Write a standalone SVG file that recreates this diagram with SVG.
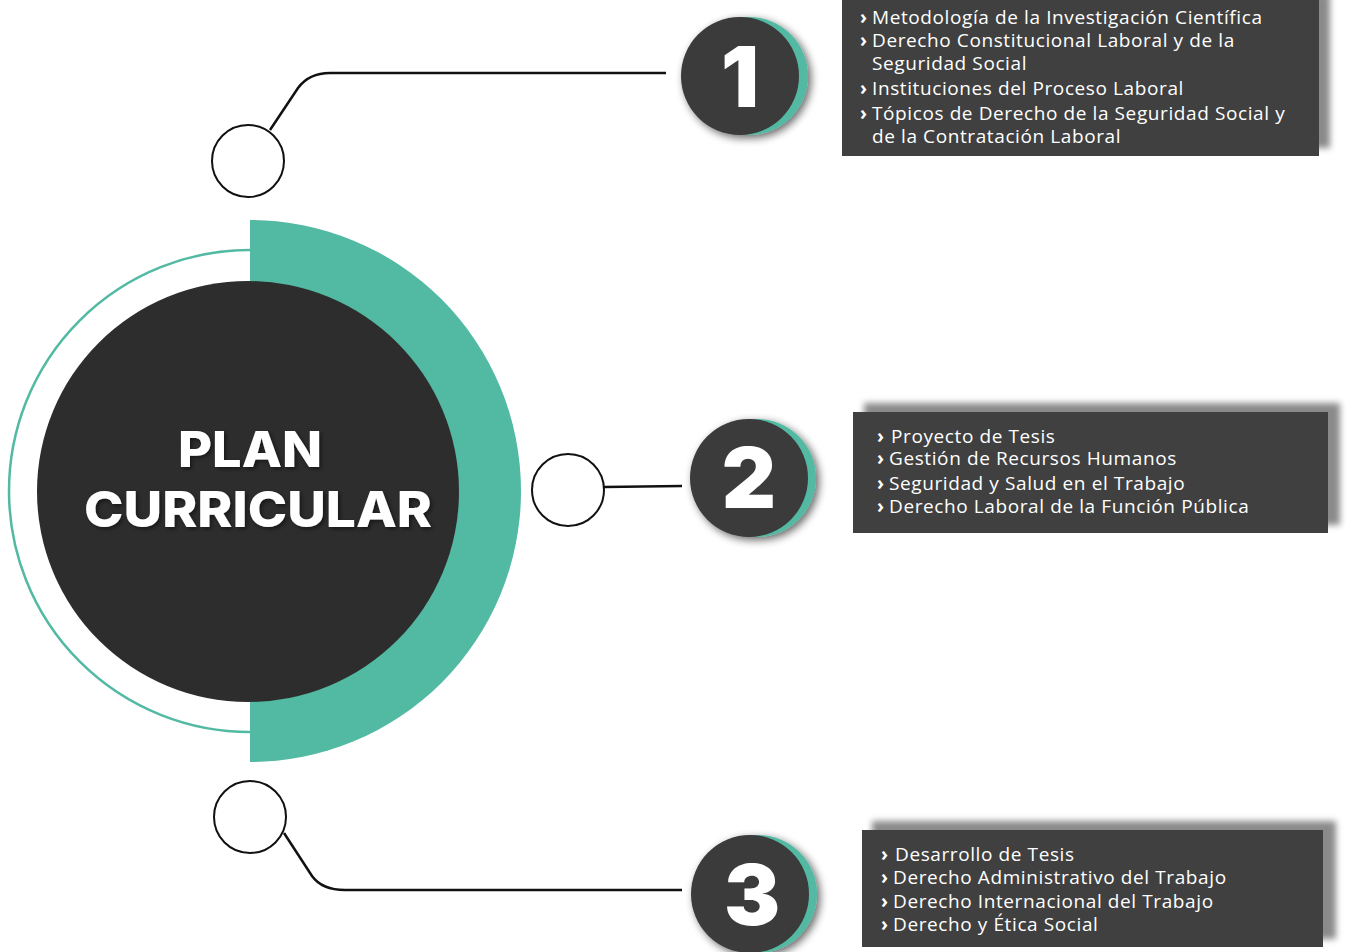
<svg xmlns="http://www.w3.org/2000/svg" width="1347" height="952" viewBox="0 0 1347 952">
<defs>
<filter id="sh" x="-30%" y="-30%" width="160%" height="160%"><feGaussianBlur in="SourceAlpha" stdDeviation="4"/><feOffset dx="3" dy="3"/><feComponentTransfer><feFuncA type="linear" slope="0.6"/></feComponentTransfer><feMerge><feMergeNode/><feMergeNode in="SourceGraphic"/></feMerge></filter>
<filter id="tsh" x="-10%" y="-30%" width="120%" height="160%"><feGaussianBlur in="SourceAlpha" stdDeviation="2"/><feOffset dx="2" dy="2"/><feComponentTransfer><feFuncA type="linear" slope="0.5"/></feComponentTransfer><feMerge><feMergeNode/><feMergeNode in="SourceGraphic"/></feMerge></filter>
<filter id="bsh" x="-5%" y="-20%" width="110%" height="140%"><feGaussianBlur stdDeviation="3"/></filter>
</defs>
<style>
.num{fill:#3a3a3a}
.teal{fill:#52b9a2}
.dig{font-family:Inter,"Open Sans",sans-serif;font-weight:900;font-size:84px;fill:#fff;text-anchor:middle}
.box{fill:#404040}
.bshadow{fill:#8a8a8a}
.t{font-family:"Open Sans","Liberation Sans",sans-serif;font-size:19px;letter-spacing:0.6px;fill:#fff}
.ch{font-weight:bold}
.conn{fill:none;stroke:#111;stroke-width:2.5}
.dot{fill:#fff;stroke:#111;stroke-width:2}
.title{font-family:Inter,"Open Sans",sans-serif;font-weight:800;font-size:50px;fill:#fff;text-anchor:middle}
</style>
<rect width="1347" height="952" fill="#fff"/>

<g id="center">
<path d="M250 220 A271 271 0 0 1 250 762 Z" class="teal"/>
<path d="M250 250 A241 241 0 0 0 250 732" fill="none" stroke="#52b9a2" stroke-width="2.5"/>
<ellipse cx="248" cy="491.5" rx="211" ry="210.5" fill="#2d2d2d"/>
<g filter="url(#tsh)">
<text class="title" x="250" y="467" textLength="144" lengthAdjust="spacingAndGlyphs">PLAN</text>
<text class="title" x="258" y="527" textLength="348" lengthAdjust="spacingAndGlyphs">CURRICULAR</text>
</g>
</g>

<g id="connectors">
<path class="conn" d="M270 130 L298 88 Q309 73 330 73 L666 73"/>
<path class="conn" d="M604 487 L682 486"/>
<path class="conn" d="M284 833 L312 876 Q322 890 345 890 L682 890"/>
</g>

<g id="dot1"><circle class="dot" cx="248" cy="161" r="36"/></g>
<g id="dot2"><circle class="dot" cx="568" cy="490" r="36" stroke="#333"/></g>
<g id="dot3"><circle class="dot" cx="250" cy="817" r="36"/></g>

<g id="num1" filter="url(#sh)">
<ellipse class="teal" cx="749" cy="76" rx="59" ry="59"/>
<ellipse class="num" cx="740" cy="76" rx="59" ry="59"/>
<text class="dig" x="740" y="107">1</text>
</g>
<g id="num2" filter="url(#sh)">
<ellipse class="teal" cx="757" cy="478" rx="59" ry="59"/>
<ellipse class="num" cx="749" cy="478" rx="59" ry="59"/>
<text class="dig" x="749" y="508">2</text>
</g>
<g id="num3" filter="url(#sh)">
<ellipse class="teal" cx="758" cy="894" rx="59" ry="59"/>
<ellipse class="num" cx="750" cy="894" rx="59" ry="59"/>
<text class="dig" x="752" y="925">3</text>
</g>

<g id="box1">
<rect class="bshadow" x="850" y="-6" width="480" height="154" filter="url(#bsh)"/>
<rect class="box" x="842" y="0" width="477" height="156"/>
<text class="t" x="860" y="24"><tspan class="ch">›</tspan><tspan x="872">Metodología de la Investigación Científica</tspan></text>
<text class="t" x="860" y="47"><tspan class="ch">›</tspan><tspan x="872">Derecho Constitucional Laboral y de la</tspan></text>
<text class="t" x="872" y="70">Seguridad Social</text>
<text class="t" x="860" y="95"><tspan class="ch">›</tspan><tspan x="872">Instituciones del Proceso Laboral</tspan></text>
<text class="t" x="860" y="120"><tspan class="ch">›</tspan><tspan x="872">Tópicos de Derecho de la Seguridad Social y</tspan></text>
<text class="t" x="872" y="143">de la Contratación Laboral</text>
</g>

<g id="box2">
<rect class="bshadow" x="864" y="403" width="476" height="122" filter="url(#bsh)"/>
<rect class="box" x="853" y="412" width="475" height="121"/>
<text class="t" x="877" y="443"><tspan class="ch">›</tspan><tspan x="891">Proyecto de Tesis</tspan></text>
<text class="t" x="877" y="465"><tspan class="ch">›</tspan><tspan x="889">Gestión de Recursos Humanos</tspan></text>
<text class="t" x="877" y="490"><tspan class="ch">›</tspan><tspan x="889">Seguridad y Salud en el Trabajo</tspan></text>
<text class="t" x="877" y="513"><tspan class="ch">›</tspan><tspan x="889">Derecho Laboral de la Función Pública</tspan></text>
</g>

<g id="box3">
<rect class="bshadow" x="872" y="821" width="464" height="118" filter="url(#bsh)"/>
<rect class="box" x="862" y="830" width="461" height="117"/>
<text class="t" x="881" y="861"><tspan class="ch">›</tspan><tspan x="895">Desarrollo de Tesis</tspan></text>
<text class="t" x="881" y="884"><tspan class="ch">›</tspan><tspan x="893">Derecho Administrativo del Trabajo</tspan></text>
<text class="t" x="881" y="908"><tspan class="ch">›</tspan><tspan x="893">Derecho Internacional del Trabajo</tspan></text>
<text class="t" x="881" y="931"><tspan class="ch">›</tspan><tspan x="893">Derecho y Ética Social</tspan></text>
</g>
</svg>
